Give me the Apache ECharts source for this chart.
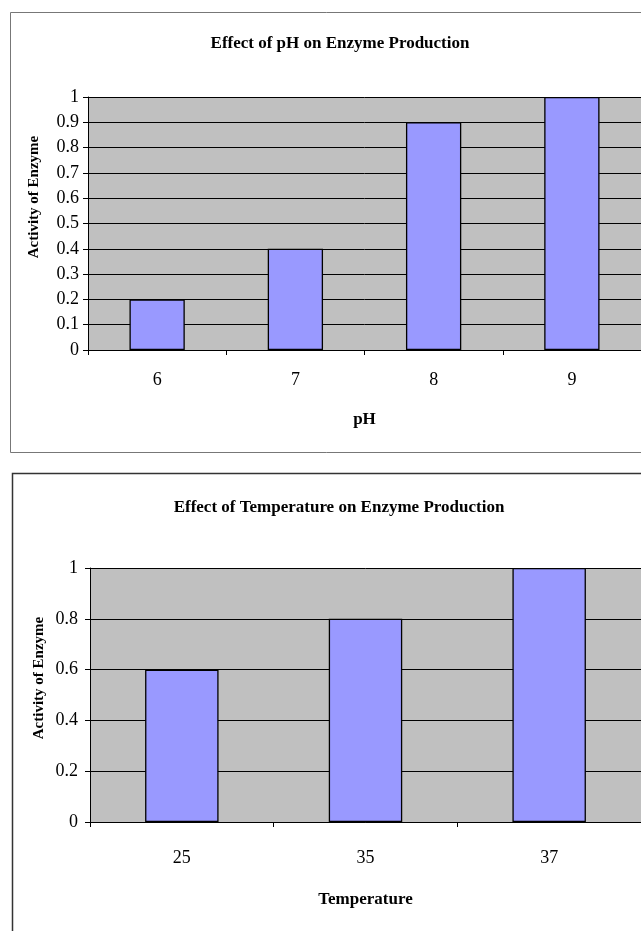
<!DOCTYPE html>
<html>
<head>
<meta charset="utf-8">
<script src="https://cdn.jsdelivr.net/npm/echarts@6/dist/echarts.min.js"></script>
<style>
  html, body { margin: 0; padding: 0; background: #fff; }
  #chart { width: 641px; height: 931px; }
</style>
</head>
<body>
<div id="chart"></div>
<script>
// pH experiment
const phCategories = ['6', '7', '8', '9'];
const phActivity = [0.2, 0.4, 0.9, 1.0];

// Temperature experiment
const tempCategories = ['25', '35', '37'];
const tempActivity = [0.6, 0.8, 1.0];

const FONT = '"Liberation Serif", "Times New Roman", serif';
const BAR_COLOR = '#9999ff';
const PLOT_BG = '#c0c0c0';

function valueAxis(gridIndex, interval, labelMargin) {
  return {
    type: 'value',
    gridIndex: gridIndex,
    min: 0,
    max: 1,
    interval: interval,
    axisLine: { show: true, lineStyle: { color: '#000', width: 1 } },
    axisTick: { show: true, length: 5, lineStyle: { color: '#000' } },
    axisLabel: { color: '#000', fontFamily: FONT, fontSize: 18, margin: labelMargin },
    splitLine: { show: true, lineStyle: { color: '#000', width: 1 } }
  };
}

function categoryAxis(gridIndex, cats, name, labelMargin, nameGap) {
  return {
    type: 'category',
    gridIndex: gridIndex,
    data: cats,
    name: name,
    nameLocation: 'middle',
    nameGap: nameGap,
    nameTextStyle: { color: '#000', fontFamily: FONT, fontSize: 17, fontWeight: 'bold' },
    axisLine: { show: true, lineStyle: { color: '#000', width: 1 } },
    axisTick: { show: true, length: 5, lineStyle: { color: '#000' } },
    axisLabel: { color: '#000', fontFamily: FONT, fontSize: 18, margin: labelMargin },
    splitLine: { show: false }
  };
}

const chart = echarts.init(document.getElementById('chart'), null, { renderer: 'canvas' });

chart.setOption({
  backgroundColor: '#fff',
  animation: false,
  title: [
    {
      text: 'Effect of pH on Enzyme Production',
      left: 335, top: 30, textAlign: 'center',
      textStyle: { color: '#000', fontFamily: FONT, fontSize: 17, fontWeight: 'bold' }
    },
    {
      text: 'Effect of Temperature on Enzyme Production',
      left: 334, top: 494, textAlign: 'center',
      textStyle: { color: '#000', fontFamily: FONT, fontSize: 17, fontWeight: 'bold' }
    }
  ],
  grid: [
    { left: 88, top: 97, width: 559, height: 253, show: true, backgroundColor: PLOT_BG, borderWidth: 0 },
    { left: 90, top: 568, width: 553, height: 254, show: true, backgroundColor: PLOT_BG, borderWidth: 0 }
  ],
  xAxis: [
    categoryAxis(0, phCategories, 'pH', 21, 61),
    categoryAxis(1, tempCategories, 'Temperature', 27, 69)
  ],
  yAxis: [
    valueAxis(0, 0.1, 9),
    valueAxis(1, 0.2, 12)
  ],
  series: [
    {
      type: 'bar', xAxisIndex: 0, yAxisIndex: 0,
      data: phActivity, barWidth: '40%',
      itemStyle: { color: BAR_COLOR, borderColor: '#000', borderWidth: 1.3 }
    },
    {
      type: 'bar', xAxisIndex: 1, yAxisIndex: 1,
      data: tempActivity, barWidth: '40%',
      itemStyle: { color: BAR_COLOR, borderColor: '#000', borderWidth: 1.3 }
    }
  ],
  graphic: [
    // chart frames
    { type: 'rect', shape: { x: 10.5, y: 12.5, width: 700, height: 440 },
      style: { fill: 'none', stroke: '#777', lineWidth: 1 }, z: 100 },
    { type: 'rect', shape: { x: 12.5, y: 473.5, width: 700, height: 500 },
      style: { fill: 'none', stroke: '#333', lineWidth: 1.5 }, z: 100 },
    // vertical axis titles
    { type: 'text', x: 34, y: 197, rotation: Math.PI / 2,
      style: { text: 'Activity of Enzyme', fill: '#000', font: 'bold 15px ' + FONT,
               textAlign: 'center', textVerticalAlign: 'middle', align: 'center', verticalAlign: 'middle' } },
    { type: 'text', x: 39, y: 678, rotation: Math.PI / 2,
      style: { text: 'Activity of Enzyme', fill: '#000', font: 'bold 15px ' + FONT,
               textAlign: 'center', textVerticalAlign: 'middle', align: 'center', verticalAlign: 'middle' } }
  ]
});
</script>
</body>
</html>
